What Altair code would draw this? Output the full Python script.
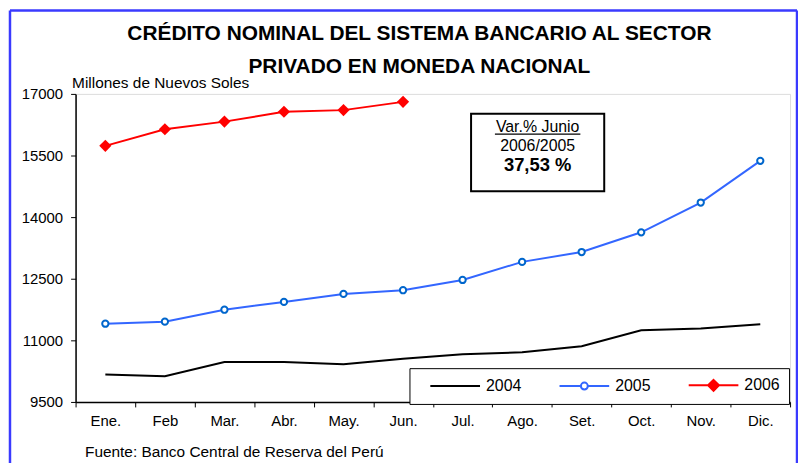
import altair as alt
import pandas as pd

# ---------------- data ----------------
months = ["Ene.", "Feb", "Mar.", "Abr.", "May.", "Jun.", "Jul.", "Ago.", "Set.", "Oct.", "Nov.", "Dic."]
v2004 = [10170, 10125, 10470, 10470, 10415, 10550, 10660, 10710, 10855, 11245, 11290, 11390]
v2005 = [11405, 11455, 11745, 11935, 12130, 12220, 12470, 12910, 13150, 13630, 14355, 15370]
v2006 = [15735, 16140, 16325, 16565, 16605, 16806]
years = ["2004", "2005", "2006"]
y_ticks = [9500, 11000, 12500, 14000, 15500, 17000]

title_lines = ["CRÉDITO NOMINAL DEL SISTEMA BANCARIO AL SECTOR", "PRIVADO EN MONEDA NACIONAL"]
y_title = "Millones de Nuevos Soles"
source = "Fuente: Banco Central de Reserva del Perú"
var_label = "Var.% Junio"
var_period = "2006/2005"
var_value = f"{(v2006[5] / v2005[5] - 1) * 100:.2f} %".replace(".", ",")

# ---------------- styles ----------------
FONT = "Liberation Sans"
colors = ["#000000", "#3366FF", "#FF0000"]
widths = [2, 2, 4.5]

rows = []
for yr, vals in zip(years, [v2004, v2005, v2006]):
    for m, v in zip(months, vals):
        rows.append({"month": m, "year": yr, "value": v})
df = pd.DataFrame(rows)

xenc = alt.X(
    "month:N", sort=months, bandPosition=0.5,
    scale=alt.Scale(type="band", domain=months, paddingInner=0, paddingOuter=0),
    axis=alt.Axis(
        title=source, titleX=9, titleY=54.5, titleAlign="left", titleBaseline="alphabetic",
        titleFontWeight="normal", titleFontSize=15.5, titleColor="#000000", titleFont=FONT,
        labelAngle=0, labelFontSize=15, labelFont=FONT, labelColor="#000000", labelPadding=7,
        tickBand="extent", tickSize=5, tickColor="#000000", domainColor="#000000", domainWidth=1.5,
        grid=False,
    ),
)
yenc = alt.Y(
    "value:Q",
    scale=alt.Scale(domain=[9500, 17000], nice=False, zero=False),
    axis=alt.Axis(
        values=y_ticks, format="d", title=y_title, titleAngle=0, titleX=-4, titleY=-6,
        titleAlign="left", titleBaseline="alphabetic", titleFontWeight="normal", titleFontSize=15.5,
        titleColor="#000000", titleFont=FONT,
        labelFontSize=15, labelFont=FONT, labelColor="#000000", labelPadding=8,
        tickSize=5, tickColor="#000000", domainColor="#000000", domainWidth=1.5, grid=False,
    ),
)

SHAPE_EXPR = ("datum.value == '2004' ? 'M-5,0H5' : (datum.value == '2005' ? "
              "'M-5,0H-0.7M0.7,0H5M0.7,0A0.7,0.7,0,1,1,-0.7,0A0.7,0.7,0,1,1,0.7,0Z' : "
              "'M-5,0H5M0,-1.1L1.1,0L0,1.1L-1.1,0Z')")
FILL_EXPR = "datum.value == '2005' ? '#FFFFFF' : (datum.value == '2006' ? '#FF0000' : 'transparent')"
SW_EXPR = "datum.value == '2006' ? 4.5 : 2"

legend = alt.Legend(
    title=None, orient="none", legendX=336, legendY=276, direction="horizontal", columns=3,
    symbolSize=100, symbolOffset=29, labelOffset=23, columnPadding=26, padding=9,
    strokeColor="#000000", fillColor="#FFFFFF",
    labelFontSize=16, labelFont=FONT, labelColor="#000000",
    labelExpr="datum.value == '2006' ? datum.label + '\u00a0\u00a0\u00a0' : datum.label",
    symbolType=alt.ExprRef(expr=SHAPE_EXPR),
    symbolFillColor=alt.ExprRef(expr=FILL_EXPR),
    symbolStrokeWidth=alt.ExprRef(expr=SW_EXPR),
    symbolOpacity=1,
)

lines = alt.Chart(df).mark_line().encode(
    x=xenc, y=yenc,
    color=alt.Color("year:N", scale=alt.Scale(domain=years, range=colors), legend=legend),
    strokeWidth=alt.StrokeWidth("year:N", scale=alt.Scale(domain=years, range=widths), legend=None),
)
pts2005 = alt.Chart(df[df.year == "2005"]).mark_point(
    shape="circle", filled=True, fill="#FFFFFF", stroke="#0066CC", strokeWidth=2, size=40, opacity=1
).encode(x=xenc, y=yenc)
pts2006 = alt.Chart(df[df.year == "2006"]).mark_point(
    shape="diamond", filled=True, color="#FF0000", size=150, opacity=1
).encode(x=xenc, y=yenc)

one = pd.DataFrame({"k": [0]})
title1 = alt.Chart(one).mark_text(font=FONT, fontSize=21, fontWeight="bold", color="#000000",
                                  align="center", baseline="alphabetic").encode(
    x=alt.value(346), y=alt.value(-54.5), text=alt.value(title_lines[0]))
title2 = alt.Chart(one).mark_text(font=FONT, fontSize=21, fontWeight="bold", color="#000000",
                                  align="center", baseline="alphabetic").encode(
    x=alt.value(346), y=alt.value(-21), text=alt.value(title_lines[1]))

box = alt.Chart(one).mark_rect(fill="#FFFFFF", stroke="#000000", strokeWidth=2).encode(
    x=alt.value(398), x2=alt.value(532), y=alt.value(20), y2=alt.value(98))
t1 = alt.Chart(one).mark_text(font=FONT, fontSize=16, color="#000000", align="center", baseline="alphabetic").encode(
    x=alt.value(465), y=alt.value(38.7), text=alt.value(var_label))
underline = alt.Chart(one).mark_rule(color="#000000", strokeWidth=1.2).encode(
    x=alt.value(422), x2=alt.value(508), y=alt.value(40.5))
t2 = alt.Chart(one).mark_text(font=FONT, fontSize=16, color="#000000", align="center", baseline="alphabetic").encode(
    x=alt.value(465), y=alt.value(57.7), text=alt.value(var_period))
t3 = alt.Chart(one).mark_text(font=FONT, fontSize=18.5, fontWeight="bold", color="#000000", align="center", baseline="alphabetic").encode(
    x=alt.value(465), y=alt.value(77.7), text=alt.value(var_value))

BLUE = "#3A3AFF"
frame_left = alt.Chart(one).mark_rule(color=BLUE, strokeWidth=2.5).encode(
    x=alt.value(-66), y=alt.value(-84), y2=alt.value(372))
frame_top = alt.Chart(one).mark_rule(color=BLUE, strokeWidth=2.5).encode(
    x=alt.value(-66), x2=alt.value(726), y=alt.value(-84))
frame_right = alt.Chart(one).mark_rule(color=BLUE, strokeWidth=2.5).encode(
    x=alt.value(726), y=alt.value(-84), y2=alt.value(372))

chart = alt.layer(
    lines, pts2005, pts2006, box, t1, underline, t2, t3, title1, title2,
    frame_left, frame_top, frame_right
).properties(
    width=719, height=310,
    autosize=alt.AutoSizeParams(type="none"),
    padding={"left": 68, "top": 85, "right": 8, "bottom": 60},
).configure_view(
    stroke="#808080", strokeWidth=2
).configure(background="#FFFFFF")

chart.save("out.html", embed_options={"renderer": "svg", "actions": False})
